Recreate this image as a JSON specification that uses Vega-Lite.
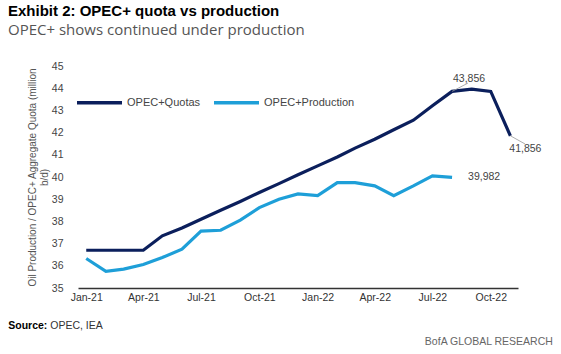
{
  "$schema": "https://vega.github.io/schema/vega-lite/v6.json",
  "width": 440,
  "height": 222,
  "autosize": "none",
  "padding": {"left": 78, "top": 66, "right": 43, "bottom": 66},
  "background": "white",
  "config": {"view": {"stroke": null}, "font": "Liberation Sans"},
  "title": {
    "text": "Exhibit 2: OPEC+ quota vs production",
    "subtitle": "OPEC+ shows continued under production",
    "anchor": "start",
    "frame": "group",
    "dx": -70,
    "fontSize": 15,
    "fontWeight": "bold",
    "color": "#000000",
    "subtitleFontSize": 15,
    "subtitleColor": "#555555",
    "subtitleFont": "Open Sans",
    "subtitlePadding": 4,
    "offset": 23
  },
  "datasets": {
    "lines": [
      {"date": "2021-01-01", "series": "OPEC+Quotas", "value": 36.7},
      {"date": "2021-02-01", "series": "OPEC+Quotas", "value": 36.7},
      {"date": "2021-03-01", "series": "OPEC+Quotas", "value": 36.7},
      {"date": "2021-04-01", "series": "OPEC+Quotas", "value": 36.7},
      {"date": "2021-05-01", "series": "OPEC+Quotas", "value": 37.35},
      {"date": "2021-06-01", "series": "OPEC+Quotas", "value": 37.7},
      {"date": "2021-07-01", "series": "OPEC+Quotas", "value": 38.1},
      {"date": "2021-08-01", "series": "OPEC+Quotas", "value": 38.5},
      {"date": "2021-09-01", "series": "OPEC+Quotas", "value": 38.9},
      {"date": "2021-10-01", "series": "OPEC+Quotas", "value": 39.3},
      {"date": "2021-11-01", "series": "OPEC+Quotas", "value": 39.7},
      {"date": "2021-12-01", "series": "OPEC+Quotas", "value": 40.1},
      {"date": "2022-01-01", "series": "OPEC+Quotas", "value": 40.5},
      {"date": "2022-02-01", "series": "OPEC+Quotas", "value": 40.9},
      {"date": "2022-03-01", "series": "OPEC+Quotas", "value": 41.3},
      {"date": "2022-04-01", "series": "OPEC+Quotas", "value": 41.7},
      {"date": "2022-05-01", "series": "OPEC+Quotas", "value": 42.13},
      {"date": "2022-06-01", "series": "OPEC+Quotas", "value": 42.56},
      {"date": "2022-07-01", "series": "OPEC+Quotas", "value": 43.21},
      {"date": "2022-08-01", "series": "OPEC+Quotas", "value": 43.856},
      {"date": "2022-09-01", "series": "OPEC+Quotas", "value": 43.956},
      {"date": "2022-10-01", "series": "OPEC+Quotas", "value": 43.856},
      {"date": "2022-11-01", "series": "OPEC+Quotas", "value": 41.856},
      {"date": "2021-01-01", "series": "OPEC+Production", "value": 36.33},
      {"date": "2021-02-01", "series": "OPEC+Production", "value": 35.75},
      {"date": "2021-03-01", "series": "OPEC+Production", "value": 35.85},
      {"date": "2021-04-01", "series": "OPEC+Production", "value": 36.06},
      {"date": "2021-05-01", "series": "OPEC+Production", "value": 36.37},
      {"date": "2021-06-01", "series": "OPEC+Production", "value": 36.75},
      {"date": "2021-07-01", "series": "OPEC+Production", "value": 37.56},
      {"date": "2021-08-01", "series": "OPEC+Production", "value": 37.6},
      {"date": "2021-09-01", "series": "OPEC+Production", "value": 38.06},
      {"date": "2021-10-01", "series": "OPEC+Production", "value": 38.62},
      {"date": "2021-11-01", "series": "OPEC+Production", "value": 39.0},
      {"date": "2021-12-01", "series": "OPEC+Production", "value": 39.24},
      {"date": "2022-01-01", "series": "OPEC+Production", "value": 39.16},
      {"date": "2022-02-01", "series": "OPEC+Production", "value": 39.75},
      {"date": "2022-03-01", "series": "OPEC+Production", "value": 39.75},
      {"date": "2022-04-01", "series": "OPEC+Production", "value": 39.6},
      {"date": "2022-05-01", "series": "OPEC+Production", "value": 39.16},
      {"date": "2022-06-01", "series": "OPEC+Production", "value": 39.6},
      {"date": "2022-07-01", "series": "OPEC+Production", "value": 40.05},
      {"date": "2022-08-01", "series": "OPEC+Production", "value": 39.982}
    ]
  },
  "layer": [
    {
      "data": {"name": "lines"},
      "mark": {"type": "line", "strokeWidth": 3.2, "strokeJoin": "miter"},
      "encoding": {
        "x": {
          "field": "date",
          "type": "temporal",
          "scale": {
            "type": "utc",
            "domain": [
              {"year": 2020, "month": 12, "date": 19, "utc": true},
              {"year": 2022, "month": 11, "date": 13, "utc": true}
            ]
          },
          "axis": {
            "values": [
              {"year": 2021, "month": 1, "date": 1, "utc": true},
              {"year": 2021, "month": 4, "date": 1, "utc": true},
              {"year": 2021, "month": 7, "date": 1, "utc": true},
              {"year": 2021, "month": 10, "date": 1, "utc": true},
              {"year": 2022, "month": 1, "date": 1, "utc": true},
              {"year": 2022, "month": 4, "date": 1, "utc": true},
              {"year": 2022, "month": 7, "date": 1, "utc": true},
              {"year": 2022, "month": 10, "date": 1, "utc": true}
            ],
            "labelExpr": "utcFormat(datum.value, '%b-%y')",
            "title": null,
            "ticks": false,
            "grid": false,
            "labelFontSize": 10.5,
            "labelColor": "#333333",
            "labelPadding": 4,
            "labelOverlap": false,
            "domainColor": "#333333",
            "domainWidth": 1.5,
            "labelFlush": false
          }
        },
        "y": {
          "field": "value",
          "type": "quantitative",
          "scale": {"domain": [35, 45], "nice": false, "zero": false},
          "axis": {
            "values": [35, 36, 37, 38, 39, 40, 41, 42, 43, 44, 45],
            "tickCount": 11,
            "labelOverlap": false,
            "domain": false,
            "ticks": false,
            "grid": false,
            "labelPadding": 15,
            "labelFontSize": 10.5,
            "labelColor": "#444444",
            "title": ["Oil Production / OPEC+ Aggregate Quota (million", "b/d)"],
            "titleFontSize": 10,
            "titleFontWeight": "normal",
            "titleColor": "#555555",
            "titlePadding": 2,
            "titleLineHeight": 12
          }
        },
        "color": {
          "field": "series",
          "type": "nominal",
          "scale": {
            "domain": ["OPEC+Quotas", "OPEC+Production"],
            "range": ["#0b1f5c", "#1e9fd8"]
          },
          "legend": {
            "orient": "none",
            "legendX": -3,
            "legendY": 12,
            "direction": "horizontal",
            "title": null,
            "symbolType": "stroke",
            "symbolSize": 2025,
            "symbolStrokeWidth": 3.5,
            "labelFontSize": 11,
            "labelColor": "#444444",
            "labelOffset": 3,
            "columnPadding": 6
          }
        }
      }
    },
    {
      "data": {"values": [{"date": "2022-08-01", "value": 43.856, "label": "43,856"}]},
      "mark": {"type": "rule", "color": "#999999", "strokeWidth": 0.8},
      "encoding": {
        "x": {"field": "date", "type": "temporal"},
        "y": {"field": "value", "type": "quantitative"},
        "x2": {"datum": {"year": 2022, "month": 8, "date": 26, "utc": true}},
        "y2": {"datum": 44.23}
      }
    },
    {
      "data": {"values": [{"date": "2022-08-01", "value": 43.856, "label": "43,856"}]},
      "mark": {"type": "text", "dx": 17, "dy": -12, "fontSize": 10.5, "color": "#444444", "align": "center"},
      "encoding": {
        "x": {"field": "date", "type": "temporal"},
        "y": {"field": "value", "type": "quantitative"},
        "text": {"field": "label"}
      }
    },
    {
      "data": {"values": [{"date": "2022-11-01", "value": 41.856, "label": "41,856"}]},
      "mark": {"type": "rule", "color": "#999999", "strokeWidth": 0.8},
      "encoding": {
        "x": {"field": "date", "type": "temporal"},
        "y": {"field": "value", "type": "quantitative"},
        "x2": {"datum": {"year": 2022, "month": 11, "date": 24, "utc": true}},
        "y2": {"datum": 41.49}
      }
    },
    {
      "data": {"values": [{"date": "2022-11-01", "value": 41.856, "label": "41,856"}]},
      "mark": {"type": "text", "dx": 15, "dy": 13, "fontSize": 10.5, "color": "#444444", "align": "center"},
      "encoding": {
        "x": {"field": "date", "type": "temporal"},
        "y": {"field": "value", "type": "quantitative"},
        "text": {"field": "label"}
      }
    },
    {
      "data": {"values": [{"date": "2022-08-01", "value": 39.982, "label": "39,982"}]},
      "mark": {"type": "text", "dx": 16, "dy": 0, "fontSize": 10.5, "color": "#444444", "align": "left"},
      "encoding": {
        "x": {"field": "date", "type": "temporal"},
        "y": {"field": "value", "type": "quantitative"},
        "text": {"field": "label"}
      }
    },
    {
      "data": {"values": [{"note": "Source:"}]},
      "mark": {"type": "text", "fontSize": 10.5, "fontWeight": "bold", "color": "#000000", "align": "left"},
      "encoding": {
        "x": {"datum": {"year": 2020, "month": 8, "date": 31, "utc": true}},
        "y": {"datum": 33.29},
        "text": {"field": "note"}
      }
    },
    {
      "data": {"values": [{"note": "OPEC, IEA"}]},
      "mark": {"type": "text", "fontSize": 10.5, "color": "#333333", "align": "left", "dx": 42},
      "encoding": {
        "x": {"datum": {"year": 2020, "month": 8, "date": 31, "utc": true}},
        "y": {"datum": 33.29},
        "text": {"field": "note"}
      }
    },
    {
      "data": {"values": [{"note": "BofA GLOBAL RESEARCH"}]},
      "mark": {"type": "text", "fontSize": 10.5, "color": "#666666", "align": "right"},
      "encoding": {
        "x": {"datum": {"year": 2023, "month": 1, "date": 7, "utc": true}},
        "y": {"datum": 32.57},
        "text": {"field": "note"}
      }
    }
  ]
}
